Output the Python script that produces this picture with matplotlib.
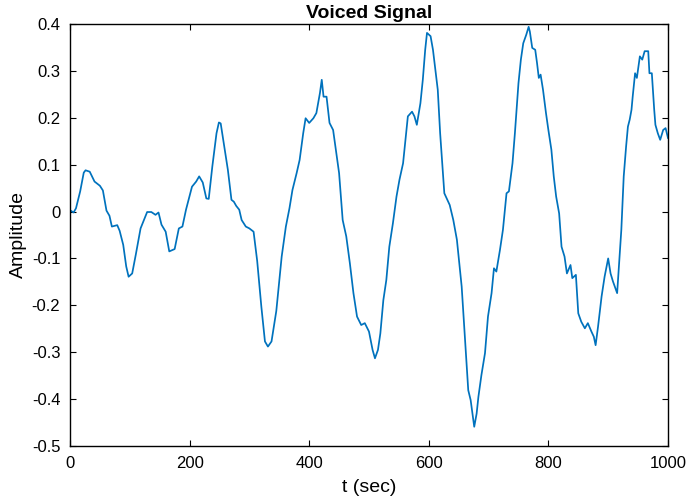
import matplotlib.pyplot as plt

plt.rcParams['font.family'] = ['Liberation Sans', 'DejaVu Sans']
plt.rcParams['axes.unicode_minus'] = False

# samples
t = [1, 6, 10, 17, 23, 26, 33, 41, 50, 55, 61, 66, 70, 79, 83, 89, 94, 98,
     104, 110, 118, 125, 129, 136, 143, 148, 153, 160, 166, 175, 182, 188,
     194, 204, 211, 216, 222, 228, 232, 238, 245, 249, 252, 258, 264, 270,
     274, 278, 283, 287, 294, 300, 307, 313, 320, 326, 331, 337, 345, 354,
     361, 367, 372, 379, 384, 390, 394, 400, 407, 412, 418, 421, 424, 429,
     434, 440, 447, 450, 456, 462, 468, 474, 480, 487, 493, 500, 506, 510,
     515, 519, 524, 529, 534, 540, 546, 551, 557, 561, 565, 572, 576, 580,
     586, 590, 594, 597, 603, 607, 615, 619, 626, 635, 641, 647, 655, 660,
     666, 670, 673, 676, 680, 683, 688, 694, 699, 705, 709, 713, 719, 724,
     730, 734, 740, 744, 750, 754, 758, 763, 767, 769, 773, 778, 781, 784,
     787, 791, 796, 800, 805, 809, 813, 818, 822, 827, 831, 837, 840, 846,
     850, 855, 861, 866, 872, 876, 879, 883, 889, 894, 900, 904, 908, 915,
     918, 922, 926, 930, 933, 936, 939, 941, 945, 948, 953, 957, 961, 967,
     969, 973, 977, 979, 983, 987, 992, 996, 1000]
amp = [0.002, -0.002, 0.007, 0.043, 0.083, 0.088, 0.085, 0.064, 0.055, 0.045,
       0.002, -0.009, -0.032, -0.029, -0.041, -0.071, -0.117, -0.139,
       -0.132, -0.092, -0.036, -0.014, -0.001, -0.001, -0.007, -0.002,
       -0.028, -0.043, -0.085, -0.080, -0.036, -0.032, 0.004, 0.053, 0.064,
       0.075, 0.062, 0.028, 0.027, 0.096, 0.167, 0.190, 0.188, 0.139, 0.089,
       0.025, 0.021, 0.012, 0.004, -0.018, -0.032, -0.036, -0.043, -0.105,
       -0.203, -0.277, -0.288, -0.277, -0.212, -0.096, -0.032, 0.007, 0.046,
       0.082, 0.110, 0.167, 0.199, 0.189, 0.199, 0.210, 0.253, 0.281, 0.245,
       0.245, 0.189, 0.174, 0.110, 0.082, -0.018, -0.053, -0.110, -0.174,
       -0.224, -0.242, -0.238, -0.256, -0.295, -0.313, -0.295, -0.260,
       -0.189, -0.146, -0.075, -0.025, 0.032, 0.068, 0.103, 0.153, 0.203,
       0.213, 0.203, 0.185, 0.231, 0.281, 0.345, 0.381, 0.374, 0.345, 0.260,
       0.167, 0.039, 0.014, -0.018, -0.060, -0.160, -0.260, -0.381, -0.402,
       -0.431, -0.459, -0.431, -0.395, -0.349, -0.302, -0.224, -0.174,
       -0.121, -0.128, -0.082, -0.039, 0.039, 0.043, 0.103, 0.167, 0.274,
       0.324, 0.359, 0.377, 0.394, 0.384, 0.349, 0.345, 0.317, 0.285, 0.292,
       0.260, 0.210, 0.174, 0.132, 0.075, 0.032, -0.004, -0.075, -0.096,
       -0.132, -0.114, -0.142, -0.135, -0.217, -0.235, -0.249, -0.238,
       -0.256, -0.267, -0.285, -0.246, -0.181, -0.139, -0.100, -0.132,
       -0.149, -0.174, -0.117, -0.039, 0.075, 0.139, 0.181, 0.196, 0.217,
       0.245, 0.295, 0.285, 0.331, 0.324, 0.342, 0.342, 0.295, 0.295, 0.217,
       0.185, 0.167, 0.153, 0.174, 0.178, 0.157]

fig = plt.figure(figsize=(6.87, 5.01), dpi=100)
ax = fig.add_axes([0.1019, 0.1098, 0.8704, 0.8423])
ax.plot(t, amp, color='#0072BD', linewidth=1.25)

ax.set_xlim(0, 1000)
ax.set_ylim(-0.5, 0.4)
ax.set_xticks([0, 200, 400, 600, 800, 1000])
ax.set_yticks([-0.5, -0.4, -0.3, -0.2, -0.1, 0, 0.1, 0.2, 0.3, 0.4])
ax.set_yticklabels(['-0.5', '-0.4', '-0.3', '-0.2', '-0.1', '0', '0.1', '0.2', '0.3', '0.4'])
ax.tick_params(direction='in', top=True, right=True, labelsize=12, length=4, width=0.8, pad=7)
for s in ax.spines.values():
    s.set_linewidth(1.0)

ax.set_xlabel('t (sec)', fontsize=14, va='center')
ax.xaxis.set_label_coords(0.5, -0.0995)
ax.set_ylabel('Amplitude', fontsize=14, va='center')
ax.yaxis.set_label_coords(-0.087, 0.5)
ax.set_title('Voiced Signal', fontsize=14, fontweight='bold', pad=4)

fig.savefig('out.png', dpi=100)
